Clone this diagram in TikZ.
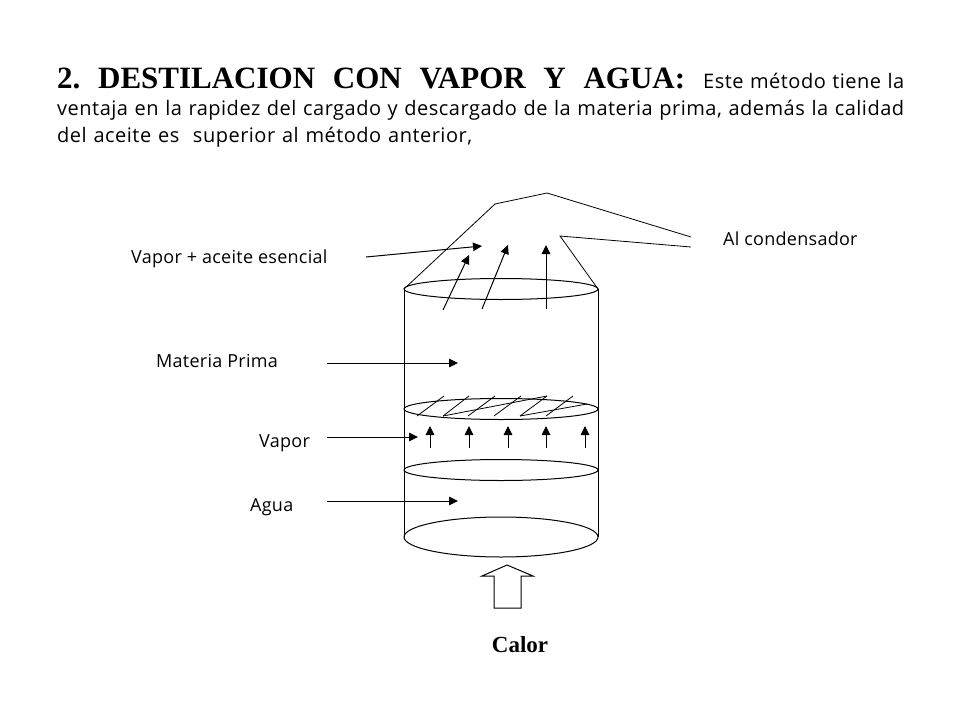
\documentclass[tikz,border=0pt]{standalone}
\usepackage{fontspec}
\setmainfont{Open Sans}
\newfontfamily\serifbf{Liberation Serif}
\usetikzlibrary{arrows.meta}
\frenchspacing
\tikzset{
  x=1pt,y=-1pt,
  line/.style={draw=black,line width=1pt},
  thin line/.style={draw=black,line width=0.8pt},
  arrow/.style={draw=black,line width=1pt,-{Triangle[length=9pt,width=8.5pt]}},
  label/.style={font=\fontsize{18}{21}\selectfont\addfontfeatures{LetterSpace=1.5},text=black,inner sep=0pt,anchor=base west},
  para/.style={font=\fontsize{20}{24}\selectfont\addfontfeatures{LetterSpace=2.5},text=black,inner sep=0pt,anchor=base west},
}
\begin{document}
\begin{tikzpicture}
\useasboundingbox (0,0) rectangle (960,720);
% paragraph
\node[inner sep=0pt,anchor=base west,font=\serifbf\bfseries\fontsize{31}{34}\selectfont] (head) at (57,88) {\makebox[628pt][s]{2. DESTILACION CON VAPOR Y AGUA:}};
\node[para] (l1) at (703,88) {\makebox[201pt][s]{Este método tiene la}};
\node[para] (l2) at (57,115) {\makebox[847pt][s]{ventaja en la rapidez del cargado y descargado de la materia prima, además la calidad}};
\node[para] (l3) at (57,142) {\makebox[415pt][s]{del aceite es\ \ superior al método anterior,}};
% labels
\node[label] (vac) at (131,263) {Vapor + aceite esencial};
\node[label] (cond) at (723,245) {Al condensador};
\node[label] (mp) at (156,367) {Materia Prima};
\node[label] (vap) at (259,447) {Vapor};
\node[label] (agua) at (250,511) {Agua};
\node[font=\serifbf\bfseries\fontsize{23}{26}\selectfont,inner sep=0pt,anchor=base] (calor) at (520,652) {Calor};
% column
\draw[line] (404,289) -- (404,537);
\draw[line] (598,289) -- (598,537);
\draw[line] (501,289) ellipse [x radius=97,y radius=10.5];
\draw[line] (501,409) ellipse [x radius=97,y radius=10.5];
\draw[line] (501,470) ellipse [x radius=97,y radius=10.5];
\draw[line] (501,537) ellipse [x radius=97,y radius=20];
% hood
\draw[thin line] (404,289) -- (495,204) -- (547,193) -- (691,237);
\draw[thin line] (691,247) -- (560,236) -- (598,289);
% hatching
\foreach \xa/\xb in {417/444,443/469,468/495,494/521,520/547,546/573}
  \draw[thin line] (\xa,416) -- (\xb,396);
\draw[thin line] (443,416) -- (547,396);
\draw[thin line] (520,416) -- (587,404);
% arrows in the hood
\coordinate (h1a) at (443,310); \coordinate (h1b) at (469,255);
\coordinate (h2a) at (482,309); \coordinate (h2b) at (508,245);
\coordinate (h3a) at (546,309); \coordinate (h3b) at (546,245);
\coordinate (h4a) at (366,257); \coordinate (h4b) at (482,246);
\draw[arrow] (h1a) -- (h1b);
\draw[arrow] (h2a) -- (h2b);
\draw[arrow] (h3a) -- (h3b);
\draw[arrow] (h4a) -- (h4b);
% vapor arrows
\foreach \x in {430,469,508,546,585}
  \draw[arrow] (\x,448) -- (\x,426);
% side arrows
\coordinate (mpa) at (327,363); \coordinate (mpb) at (458,363);
\coordinate (vaa) at (327,437); \coordinate (vab) at (418,437);
\coordinate (aga) at (327,501); \coordinate (agb) at (458,501);
\draw[arrow] (mpa) -- (mpb);
\draw[arrow] (vaa) -- (vab);
\draw[arrow] (aga) -- (agb);
% block arrow
\draw[line,line join=miter] (507,565) -- (533,576) -- (521,576) -- (521,608) -- (494,608) -- (494,576) -- (482,576) -- cycle;
\end{tikzpicture}
\end{document}
